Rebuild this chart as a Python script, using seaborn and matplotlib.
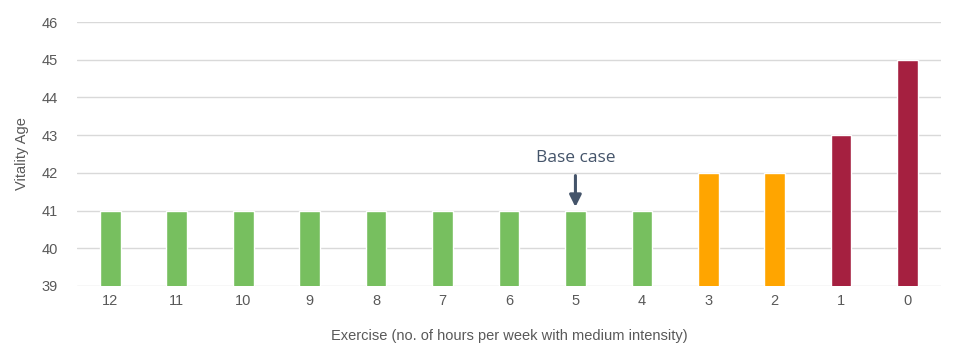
import pandas as pd
import numpy as np
import matplotlib.pyplot as plt
import seaborn as sns

# data
hours = ['12', '11', '10', '9', '8', '7', '6', '5', '4', '3', '2', '1', '0']
vitality_age = [41, 41, 41, 41, 41, 41, 41, 41, 41, 42, 42, 43, 45]
band = ['good'] * 9 + ['mid'] * 2 + ['bad'] * 2
band_colors = {'good': '#77BF5F', 'mid': '#FFA500', 'bad': '#A52040'}
base_case = '5'

df = pd.DataFrame({'hours': hours, 'age': vitality_age, 'band': band})

sns.set_style('white')
plt.rcParams['font.family'] = ['Liberation Sans', 'DejaVu Sans']

fig = plt.figure(figsize=(9.64, 3.61), dpi=100)
ax = fig.add_axes([0.08, 0.208, 0.896, 0.731])

sns.barplot(data=df, x='hours', y='age', hue='band', palette=band_colors,
            order=hours, dodge=False, width=0.31, legend=False, ax=ax,
            saturation=1)

ax.set_ylim(39, 46)
ax.set_yticks(range(39, 47))
ax.set_xlim(-0.5, len(hours) - 0.5)
ax.grid(axis='y', color='#D9D9D9', linewidth=1)
ax.set_axisbelow(True)
for s in ax.spines.values():
    s.set_visible(False)
ax.tick_params(axis='both', length=0, labelsize=10.5, labelcolor='#595959')
ax.tick_params(axis='x', pad=6)
ax.tick_params(axis='y', pad=14)
ax.set_xlabel('Exercise (no. of hours per week with medium intensity)',
              fontsize=10.5, color='#595959', labelpad=15)
ax.set_ylabel('Vitality Age', fontsize=10.5, color='#595959', labelpad=9)

# base case arrow
i = hours.index(base_case)
y0 = vitality_age[i]
ax.annotate('', xy=(i, y0 + 0.02), xytext=(i, y0 + 1.0),
            arrowprops=dict(arrowstyle='-|>,head_width=0.35,head_length=0.7',
                            color='#44546A', lw=2.2))
ax.text(i, y0 + 1.4, 'Base case', ha='center', va='center',
        fontsize=12.5, color='#44546A', family=['Open Sans', 'DejaVu Sans'])

fig.savefig('out.png', dpi=100)
